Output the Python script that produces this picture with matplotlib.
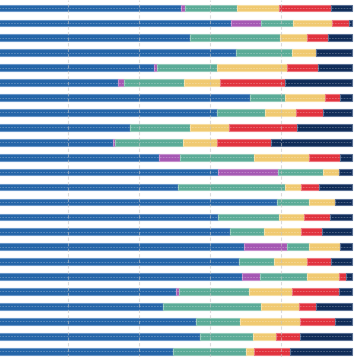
import matplotlib
matplotlib.use("Agg")
import matplotlib.pyplot as plt
import numpy as np

# share of each category per row (percent), top row first
blue = [51.8, 65.9, 54.3, 67.3, 44.1, 34.0, 71.2, 61.9, 37.4, 32.6, 45.6, 62.2,
        50.9, 78.8, 62.2, 65.6, 69.5, 68.1, 69.0, 50.4, 46.7, 56.0, 57.1, 49.5]
purple = [1.1, 8.4, 0, 0, 0.9, 1.7, 0, 0, 0, 0.5, 5.9, 16.9,
          0, 0, 0, 0, 12.2, 0, 5.0, 0.8, 0, 0, 0, 0]
teal = [14.7, 9.1, 25.4, 15.8, 16.9, 16.9, 9.9, 13.6, 16.9, 19.2, 20.8, 12.7,
        30.2, 9.1, 17.2, 9.6, 6.2, 9.9, 13.3, 19.8, 27.6, 12.4, 15.0, 20.6]
yellow = [11.8, 11.0, 7.6, 6.7, 19.8, 10.2, 11.3, 8.7, 11.0, 9.6, 15.6, 4.5,
          4.5, 7.3, 7.1, 10.4, 8.7, 9.3, 9.0, 12.1, 10.7, 16.9, 6.5, 2.2]
red = [14.7, 4.8, 5.9, 0, 8.7, 18.3, 4.2, 7.6, 19.2, 15.3, 8.7, 0,
       5.1, 0, 7.3, 5.9, 0, 6.8, 2.0, 13.2, 4.8, 9.9, 6.7, 10.2]
navy = [5.9, 0.8, 6.8, 10.2, 9.6, 18.9, 3.4, 8.2, 15.5, 22.8, 3.4, 3.7,
        9.3, 4.8, 6.2, 8.5, 3.4, 5.9, 1.7, 3.7, 10.2, 4.8, 14.7, 17.5]

series = [blue, purple, teal, yellow, red, navy]
colors = ['#2465a8', '#a557b3', '#5aab97', '#f0c970', '#e1323d', '#0f2c58']
edges = ['#6a97c9', '#c590cd', '#93c9ba', '#f6dea4', '#ec7880', '#5a7094']

fig = plt.figure(figsize=(3.57, 3.57), dpi=100)
ax = fig.add_axes([0, 0, 1, 1])

rows = np.arange(len(blue))
left = np.zeros(len(blue))
for vals, c, ec in zip(series, colors, edges):
    vals = np.array(vals)
    ax.barh(rows, vals, left=left, height=0.45, color=c, edgecolor=ec,
            linewidth=0.8, zorder=2)
    left += vals

# dashed line through the middle of every bar
ax.hlines(rows, 0, left, colors='white', linestyles=(0, (2, 1.5)),
          linewidth=0.6, alpha=0.3, zorder=3)
ax.plot(np.zeros(len(rows)) + 0.2, rows, 's', color='#0b2340', markersize=1.2, zorder=4)

for gx in [20, 40, 60, 80]:
    ax.axvline(gx, color='#c4c4c4', linestyle=(0, (3, 2)), linewidth=0.8, alpha=0.6, zorder=3)

ax.set_xlim(0.7, 101.4)
ax.set_ylim(23.39, -0.536)
ax.axis('off')

fig.savefig('out.png', dpi=100)
